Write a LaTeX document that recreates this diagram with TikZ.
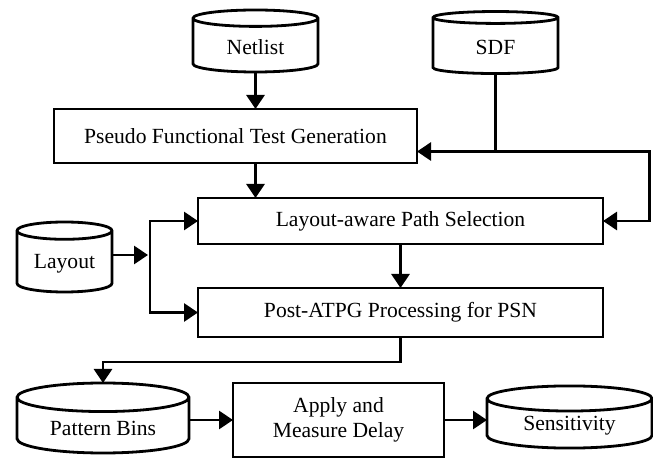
\documentclass[tikz,border=0pt]{standalone}
\usepackage{fontspec}
\setmainfont{Liberation Serif}
\usetikzlibrary{positioning,shapes.geometric,arrows.meta,calc}

\begin{document}
\begin{tikzpicture}[
  font=\fontsize{10.8pt}{12.5pt}\selectfont,
  >={Triangle[length=7pt,width=9pt]},
  line width=1.4pt,
  %% Box styles
  procbox/.style = {draw, fill=white, align=center, inner sep=2pt, outer sep=0pt},
  store/.style   = {draw, fill=white, cylinder, shape border rotate=90,
                    aspect=0.25, align=center, inner sep=2pt, outer sep=0pt},
  arr/.style     = {->},
]
\useasboundingbox (0,0) rectangle (326.5pt,-229.5pt);

%% ── Row 0: Test generation and its inputs ─────────────────────
\node[procbox, minimum width=181.5pt, minimum height=27pt] (pftg)
  at (117.75pt,-68pt) {Pseudo Functional Test Generation};

\node[store, minimum width=62.5pt, minimum height=31pt,
      above=18.5pt of pftg.north, xshift=10pt] (netlist) {Netlist};

\node[store, minimum width=62.5pt, minimum height=31pt,
      right=57.5pt of netlist] (sdf) {SDF};

%% ── Row 1: Path selection and post processing ─────────────────
\node[procbox, minimum width=202.5pt, minimum height=23pt,
      below=17.5pt of pftg.south, xshift=82.5pt] (lps)
  {Layout-aware Path Selection};

\node[procbox, minimum width=202.5pt, minimum height=24.5pt,
      below=22pt of lps] (post) {Post-ATPG Processing for PSN};

% cylinders are placed by their shape centre
\node[store, minimum width=47.5pt, minimum height=35pt,
      left=66.75pt of lps.west, anchor=shape center, yshift=-18pt] (layout)
  {Layout};

%% ── Row 2: Measurement ─────────────────────────────────────────
\node[store, minimum width=86pt, minimum height=35pt,
      below=40.5pt of post.south, anchor=shape center, xshift=-148.75pt] (pbins)
  {Pattern Bins};
\coordinate (pbE) at (pbins.shape center -| pbins.east);

\node[procbox, minimum width=105.5pt, minimum height=37pt,
      right=22pt of pbE, yshift=-1pt] (apply) {Apply and\\Measure Delay};

\node[store, minimum width=82.5pt, minimum height=30pt,
      right=62.75pt of apply.east, anchor=shape center, yshift=1.5pt] (sens)
  {Sensitivity};

%% ── Arrows: inputs → generation ────────────────────────────────
\draw[arr] (netlist.south) -- (netlist.south |- pftg.north);
\coordinate[below=39pt of sdf.south] (jn);
\coordinate[right=77pt of jn] (jr);
\draw[arr] (sdf.south) -- (jn) -- (jn -| pftg.east);
\draw[arr] (jn) -- (jr) |- (lps.east);
\draw[arr] (netlist.south |- pftg.south) -- (netlist.south |- lps.north);

%% ── Arrows: layout bracket ─────────────────────────────────────
\coordinate (layE) at ($(layout.shape center -| layout.east)+(0,1pt)$);
\coordinate[right=19pt of layE] (br);
\draw[arr, shorten >=1pt] (layE) -- (br);
\draw[arr] (post.west -| br) |- (lps.west);
\draw[arr] (lps.west -| br) |- (post.west);

%% ── Arrows: down to the measurement row ────────────────────────
\draw[arr] (lps.south) -- (post.north);
\draw[arr] (post.south) -- ++(0,-12.5pt) -| (pbins.north);
\draw[arr] (pbE |- apply.west) -- (apply.west);
\draw[arr] (apply.east) -- (apply.east -| sens.west);

\end{tikzpicture}
\end{document}
